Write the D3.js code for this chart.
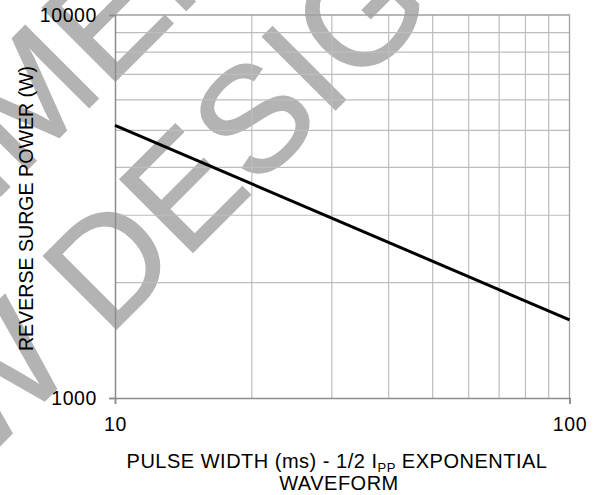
<!DOCTYPE html>
<html>
<head>
<meta charset="utf-8">
<script src="https://cdn.jsdelivr.net/npm/d3@7"></script>
<style>
  body { margin: 0; background: #fff; }
  text { font-family: "Liberation Sans", Arial, sans-serif; }
</style>
</head>
<body>
<div id="chart"></div>
<script>
// chart size
var chart_width  = 598;
var chart_height = 495;
var margin = {left: 115, right: 28.5, top: 15, bottom: 97};
var font = "'Liberation Sans', Arial, sans-serif";

// data
var pulse_width = [10, 100];        // ms
var surge_power = [5150, 1600];     // W
var x_ticks = [10, 100];
var y_ticks = [1000, 10000];
var x_grid = [20, 30, 40, 50, 60, 70, 80, 90];
var y_grid = [2000, 3000, 4000, 5000, 6000, 7000, 8000, 9000];
// watermark, split where it is pinned to the picture
var watermark_head = ["NOT RECOMM", "FOR NEW "];
var watermark_tail = ["ENDED", "DESIGNS"];

var svg = d3.select("#chart")
  .append("svg")
  .attr("width", chart_width)
  .attr("height", chart_height);

var x = d3.scaleLog()
  .domain([10, 100])
  .range([margin.left, chart_width - margin.right]);

var y = d3.scaleLog()
  .domain([1000, 10000])
  .range([chart_height - margin.bottom, margin.top]);

//watermark, rotated -45deg, lies under everything
var wm = svg.append("g")
  .attr("transform", "rotate(-45)")
  .attr("fill", "#b3b3b3")
  .attr("stroke", "#b3b3b3")
  .attr("stroke-width", 1.5)
  .style("font-family", font)
  .style("font-size", "150px");

// [u along baseline, v baseline] of the pinned letter
var wm_pins = [[12, 139], [-162.6, 315]];
wm_pins.forEach(function(p, i){
  wm.append("text")
    .attr("x", p[0])
    .attr("y", p[1])
    .attr("text-anchor", "end")
    .attr("xml:space", "preserve")
    .text(watermark_head[i]);
  wm.append("text")
    .attr("x", p[0])
    .attr("y", p[1])
    .text(watermark_tail[i]);
});

// grid lines
svg.append("g")
  .selectAll("line.h")
  .data(y_grid)
  .enter()
  .append("line")
  .attr("x1", x.range()[0])
  .attr("x2", x.range()[1])
  .attr("y1", function(d){ return y(d); })
  .attr("y2", function(d){ return y(d); })
  .attr("stroke", "#bdbdbd")
  .attr("stroke-width", 1.2);

svg.append("g")
  .selectAll("line.v")
  .data(x_grid)
  .enter()
  .append("line")
  .attr("x1", function(d){ return x(d); })
  .attr("x2", function(d){ return x(d); })
  .attr("y1", y.range()[0])
  .attr("y2", y.range()[1])
  .attr("stroke", "#bdbdbd")
  .attr("stroke-width", 1.2);

// plot border (top and right)
svg.append("path")
  .attr("d", "M" + x.range()[0] + "," + y.range()[1] +
             "H" + x.range()[1] + "V" + y.range()[0])
  .attr("fill", "none")
  .attr("stroke", "#a0a0a0")
  .attr("stroke-width", 1.3);

// axes
var x_axis = d3.axisBottom(x)
  .tickValues(x_ticks)
  .tickFormat(d3.format("d"))
  .tickSize(6)
  .tickPadding(13);

var y_axis = d3.axisLeft(y)
  .tickValues(y_ticks)
  .tickFormat(d3.format("d"))
  .tickSize(6)
  .tickPadding(12);

var gx = svg.append("g")
  .attr("transform", "translate(0," + y.range()[0] + ")")
  .call(x_axis);

var gy = svg.append("g")
  .attr("transform", "translate(" + x.range()[0] + ",0)")
  .call(y_axis);

[gx, gy].forEach(function(g){
  g.attr("font-family", null).attr("font-size", null);
  g.select(".domain").attr("stroke", "#8c8c8c").attr("stroke-width", 1.5);
  g.selectAll(".tick line").attr("stroke", "#8c8c8c").attr("stroke-width", 1.5);
  g.selectAll(".tick text")
    .attr("fill", "#000")
    .style("font-size", "19.5px")
    .style("letter-spacing", "0.6px")
    .style("font-family", font);
});

// data line
var line = d3.line()
  .x(function(d){ return x(d[0]); })
  .y(function(d){ return y(d[1]); });

svg.append("path")
  .datum(d3.zip(pulse_width, surge_power))
  .attr("d", line)
  .attr("fill", "none")
  .attr("stroke", "#000")
  .attr("stroke-width", 3);

// axis titles
var xt = svg.append("text")
  .attr("x", 337)
  .attr("y", 468)
  .attr("text-anchor", "middle")
  .style("font-family", font)
  .style("font-size", "20px")
  .style("letter-spacing", "0.5px");
xt.append("tspan").text("PULSE WIDTH (ms) - 1/2 I");
xt.append("tspan").attr("dy", 4).style("font-size", "13px").text("PP");
xt.append("tspan").attr("dy", -4).text(" EXPONENTIAL");

svg.append("text")
  .attr("x", 339)
  .attr("y", 490)
  .attr("text-anchor", "middle")
  .style("font-family", font)
  .style("font-size", "20px")
  .style("letter-spacing", "0.5px")
  .text("WAVEFORM");

svg.append("text")
  .attr("transform", "translate(33,208.5) rotate(-90)")
  .attr("text-anchor", "middle")
  .style("font-family", font)
  .style("font-size", "19.6px")
  .text("REVERSE SURGE POWER (W)");
</script>
</body>
</html>
